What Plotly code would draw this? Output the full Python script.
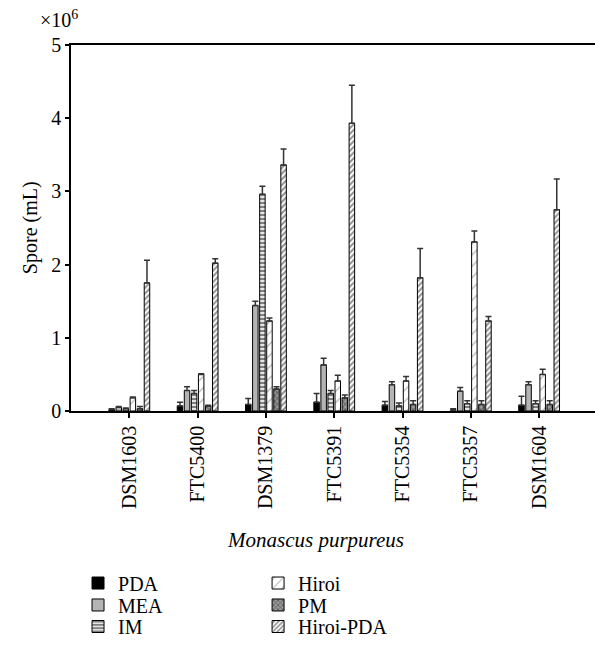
import plotly.graph_objects as go

strains = ["DSM1603", "FTC5400", "DSM1379", "FTC5391", "FTC5354", "FTC5357", "DSM1604"]

pda = [0.02, 0.07, 0.09, 0.12, 0.08, 0.01, 0.08]
pda_err = [0.01, 0.05, 0.08, 0.12, 0.05, 0.02, 0.12]
mea = [0.05, 0.28, 1.44, 0.63, 0.36, 0.27, 0.36]
mea_err = [0.01, 0.05, 0.06, 0.09, 0.04, 0.05, 0.04]
im = [0.03, 0.24, 2.96, 0.24, 0.07, 0.10, 0.10]
im_err = [0.01, 0.04, 0.11, 0.04, 0.04, 0.04, 0.04]
hiroi = [0.18, 0.50, 1.23, 0.41, 0.41, 2.31, 0.50]
hiroi_err = [0.01, 0.01, 0.04, 0.08, 0.06, 0.15, 0.07]
pm = [0.03, 0.07, 0.30, 0.18, 0.09, 0.09, 0.09]
pm_err = [0.03, 0.01, 0.03, 0.04, 0.05, 0.05, 0.05]
hiroi_pda = [1.75, 2.02, 3.36, 3.93, 1.82, 1.23, 2.75]
hiroi_pda_err = [0.31, 0.06, 0.22, 0.52, 0.40, 0.06, 0.42]

y_ticks = [0, 1, 2, 3, 4, 5]

FONT = "Liberation Serif"
FS = 20

series = [
    ("PDA", pda, pda_err, dict(color="black")),
    ("MEA", mea, mea_err, dict(color="#b4b4b4")),
    ("IM", im, im_err, dict(color="white", pattern=dict(shape="-", fgcolor="black", bgcolor="white", size=4, solidity=0.6))),
    ("Hiroi", hiroi, hiroi_err, dict(color="white", pattern=dict(shape="/", fgcolor="#666", bgcolor="white", size=8, solidity=0.15))),
    ("PM", pm, pm_err, dict(color="#777", pattern=dict(shape="x", fgcolor="#222", bgcolor="#9a9a9a", size=4, solidity=0.45))),
    ("Hiroi-PDA", hiroi_pda, hiroi_pda_err, dict(color="white", pattern=dict(shape="/", fgcolor="#222", bgcolor="white", size=4, solidity=0.5))),
]

# legend placement (paper coords): two columns of three
leg_x = [0.0134, 0.0134, 0.0134, 0.357, 0.357, 0.357]
leg_y = [-0.470, -0.530, -0.590, -0.470, -0.530, -0.590]

fig = go.Figure()
layout_legends = {}
for i, (name, vals, errs, mk) in enumerate(series):
    marker = dict(mk)
    marker["line"] = dict(color="black", width=1)
    lg = "legend" if i == 0 else f"legend{i + 1}"
    fig.add_trace(go.Bar(
        name=name, x=strains, y=vals, marker=marker, legend=lg,
        error_y=dict(type="data", symmetric=False, array=errs, arrayminus=[0] * len(errs),
                     color="#333", thickness=1.5, width=3),
    ))
    layout_legends[lg] = dict(x=leg_x[i], y=leg_y[i], xanchor="left", yanchor="middle",
                              font=dict(family=FONT, size=FS), itemwidth=30,
                              bgcolor="rgba(0,0,0,0)", borderwidth=0)

fig.update_layout(
    width=595, height=646,
    margin=dict(l=71, r=0, t=45, b=235),
    plot_bgcolor="white", paper_bgcolor="white",
    barmode="group", bargap=0.38, bargroupgap=0.22,
    font=dict(family=FONT, size=FS, color="black"),
    xaxis=dict(
        type="category", range=[-0.854, 6.818],
        showline=True, linecolor="black", linewidth=1.5, mirror=True,
        ticks="outside", ticklen=5, tickcolor="black", tickwidth=1.5,
        tickangle=-90, tickfont=dict(family=FONT, size=FS),
        showgrid=False, zeroline=False,
    ),
    yaxis=dict(
        range=[0, 5], tickvals=y_ticks, ticktext=[str(v) for v in y_ticks],
        showline=True, linecolor="black", linewidth=1.5,
        ticks="outside", ticklen=4, tickcolor="black", tickwidth=1.5,
        tickfont=dict(family=FONT, size=FS),
        showgrid=False, zeroline=False,
    ),
    showlegend=True,
    **layout_legends,
)

fig.add_annotation(text="×10<sup>6</sup>", xref="paper", yref="paper",
                   x=-0.023, y=1.0, xanchor="center", yanchor="bottom", yshift=12,
                   showarrow=False, font=dict(family=FONT, size=FS))
fig.add_annotation(text="Spore (mL)", xref="paper", yref="paper",
                   x=-0.078, y=0.5, xanchor="center", yanchor="middle", textangle=-90,
                   showarrow=False, font=dict(family=FONT, size=FS))
fig.add_annotation(text="<i>Monascus purpureus</i>", xref="paper", yref="paper",
                   x=0.466, y=-0.352, xanchor="center", yanchor="middle", showarrow=False,
                   font=dict(family=FONT, size=21))

fig.write_html("out.html")
